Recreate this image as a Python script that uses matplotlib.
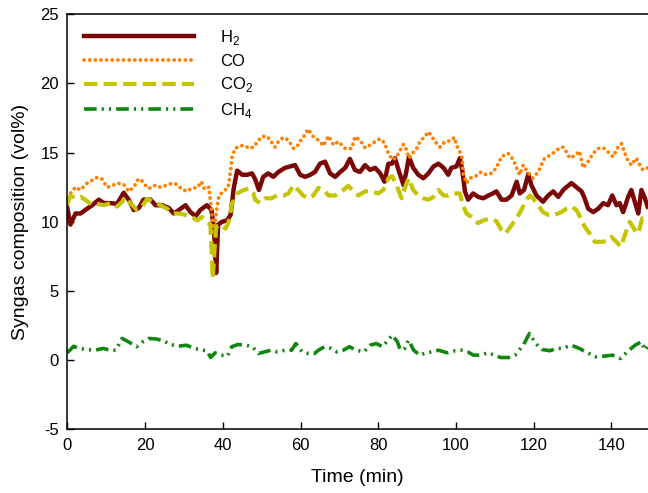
import numpy as np
import matplotlib.pyplot as plt

plt.rcParams['font.family'] = ['Liberation Sans', 'DejaVu Sans']
plt.rcParams['axes.unicode_minus'] = False

# H2 (vol%)
h2_t = [0, 0.8, 2.1, 3.4, 4.6, 6.4, 8.1, 9.4, 11.1, 12.8, 14.5, 15.8, 17.1, 18.4, 19.6,
        21.4, 22.7, 24.4, 26.1, 27.4, 28.7, 30.4, 31.7, 33.0, 34.2, 35.9, 37.1, 37.7,
        38.3, 38.8, 39.8, 41.1, 42.0, 42.8, 43.7, 45.0, 46.3, 47.5, 48.3, 49.3, 50.4,
        51.7, 53.0, 54.3, 56.0, 57.3, 58.6, 59.9, 61.2, 62.5, 63.7, 65.0, 66.3, 67.6,
        68.9, 70.2, 71.5, 72.7, 74.0, 75.3, 76.6, 77.9, 79.2, 80.5, 81.6, 82.6, 83.5,
        84.3, 85.2, 86.5, 87.3, 87.9, 89.0, 90.3, 91.6, 92.9, 94.2, 95.5, 96.8, 98.0,
        98.8, 100.1, 101.0, 101.6, 102.3, 103.1, 104.4, 105.7, 107.0, 108.3, 109.5,
        110.4, 111.7, 113.0, 114.3, 115.6, 116.4, 117.5, 118.6, 119.4, 120.7, 122.4,
        123.7, 125.0, 126.3, 127.6, 128.4, 129.7, 131.0, 132.3, 133.1, 134.0, 135.3,
        136.6, 137.9, 139.1, 140.2, 141.3, 142.1, 143.0, 144.3, 145.1, 146.0, 146.9,
        147.7, 148.6, 149.3]
h2_v = [11.0, 9.8, 10.6, 10.6, 10.85, 11.2, 11.6, 11.35, 11.35, 11.3, 12.1, 11.6, 10.85,
        11.0, 11.6, 11.6, 11.2, 11.2, 11.0, 10.6, 10.85, 11.2, 10.7, 10.4, 10.85, 11.2,
        10.85, 9.5, 6.3, 9.8, 10.0, 10.1, 10.5, 12.4, 13.7, 13.4, 13.4, 13.5, 13.1, 12.3,
        13.25, 13.5, 13.25, 13.6, 13.9, 14.0, 14.1, 13.4, 13.25, 13.4, 13.6, 14.2, 14.35,
        13.5, 13.25, 13.6, 13.9, 14.55, 13.75, 13.6, 14.1, 13.75, 13.9, 13.5, 12.9, 14.2,
        14.2, 14.6, 13.75, 12.65, 13.75, 14.7, 13.9, 13.4, 13.15, 13.5, 14.0, 14.2, 13.9,
        13.4, 13.9, 14.0, 14.6, 13.75, 12.2, 11.6, 12.05, 11.8, 11.7, 11.9, 12.05, 12.2,
        11.6, 11.6, 11.9, 12.9, 12.05, 12.3, 13.45, 12.65, 11.9, 11.45, 11.9, 12.2, 11.8,
        12.3, 12.5, 12.8, 12.5, 12.2, 11.7, 10.95, 10.7, 10.95, 11.35, 11.2, 11.9, 11.2,
        11.35, 10.7, 11.8, 12.3, 11.45, 10.6, 12.3, 11.7, 11.1]

# CO (vol%)
co_t = [0, 0.8, 2.1, 3.4, 5.1, 6.4, 7.6, 8.9, 10.2, 11.5, 12.8, 14.5, 15.8, 17.1, 18.0,
        18.8, 19.6, 20.9, 22.7, 23.9, 25.7, 27.0, 28.2, 29.5, 30.8, 32.1, 33.4, 34.5,
        35.3, 36.4, 37.1, 37.7, 38.3, 39.0, 40.2, 41.4, 42.0, 42.4, 43.2, 44.5, 45.8,
        46.7, 47.9, 48.7, 50.0, 51.3, 52.2, 53.4, 54.3, 55.6, 56.9, 58.2, 59.4, 60.3,
        61.2, 61.9, 63.3, 64.6, 65.9, 67.2, 68.5, 69.7, 71.5, 73.2, 74.0, 75.3, 76.6,
        77.9, 79.2, 80.5, 81.6, 82.6, 83.6, 84.5, 85.4, 86.5, 87.3, 87.9, 88.8, 89.9,
        90.8, 92.0, 92.9, 93.8, 94.6, 95.9, 97.2, 98.5, 99.6, 100.1, 101.0, 101.6, 101.8,
        102.7, 103.5, 104.8, 106.5, 107.8, 109.1, 110.4, 111.7, 113.4, 114.7, 115.6,
        116.4, 117.3, 118.1, 119.0, 119.8, 121.1, 122.8, 124.1, 125.4, 126.7, 127.6,
        128.4, 129.3, 130.6, 131.8, 132.7, 134.0, 135.3, 136.6, 137.9, 139.1, 140.4,
        141.7, 142.6, 143.9, 145.1, 146.4, 147.3, 148.1, 149.3]
co_v = [11.3, 12.05, 12.5, 12.3, 12.8, 13.0, 13.2, 13.1, 12.5, 12.6, 12.8, 12.7, 12.2,
        12.5, 13.0, 13.1, 12.8, 12.4, 12.65, 12.5, 12.65, 12.8, 12.7, 12.35, 12.2, 12.45,
        12.45, 12.9, 12.35, 12.5, 10.85, 9.3, 10.6, 11.9, 12.2, 12.5, 13.7, 14.7, 15.3,
        15.5, 15.5, 15.3, 15.4, 15.7, 16.15, 16.2, 15.9, 15.4, 15.8, 16.1, 15.9, 15.3,
        15.55, 16.0, 16.3, 16.7, 16.15, 15.9, 15.5, 16.2, 15.55, 15.8, 15.3, 15.3, 16.15,
        15.9, 15.35, 15.55, 15.8, 16.0, 15.7, 14.95, 14.5, 14.6, 15.05, 15.6, 15.2, 14.6,
        14.95, 15.3, 15.85, 16.15, 16.5, 16.15, 15.8, 15.4, 15.8, 15.85, 16.1, 15.55,
        15.05, 14.6, 13.5, 12.8, 13.15, 13.25, 13.6, 13.4, 13.5, 13.9, 14.7, 14.95, 14.5,
        13.9, 13.4, 14.1, 13.75, 13.4, 13.15, 13.6, 14.6, 14.8, 15.05, 15.35, 15.4, 15.05,
        14.6, 14.8, 15.1, 13.9, 14.35, 14.95, 15.3, 15.35, 15.05, 14.7, 15.4, 15.65, 14.6,
        14.1, 14.6, 14.1, 13.75, 13.9]

# CO2 (vol%)
co2_t = [0, 0.8, 2.1, 3.4, 4.6, 6.4, 7.6, 9.4, 11.1, 12.8, 14.1, 14.9, 16.2, 17.9, 19.2,
         20.5, 22.2, 24.0, 25.7, 27.0, 28.7, 30.4, 32.1, 33.4, 34.7, 35.9, 36.8, 37.1,
         37.4, 37.9, 38.3, 39.4, 40.7, 41.5, 42.4, 43.7, 45.4, 46.7, 47.9, 48.3, 49.6,
         50.9, 52.6, 53.9, 55.6, 56.9, 58.2, 59.4, 60.7, 62.0, 63.3, 64.6, 65.9, 67.2,
         68.9, 70.6, 72.3, 73.6, 74.9, 76.6, 78.3, 80.0, 81.3, 82.6, 83.6, 84.7, 86.0,
         86.9, 87.8, 89.0, 90.3, 91.6, 92.9, 94.2, 95.5, 96.8, 98.0, 99.3, 101.0, 101.8,
         102.7, 104.0, 105.7, 107.4, 109.1, 110.4, 111.7, 112.7, 114.3, 115.6, 116.8,
         118.1, 119.0, 119.8, 121.1, 122.4, 123.7, 125.4, 127.1, 128.4, 129.7, 131.0,
         132.1, 133.1, 134.4, 135.7, 137.4, 139.0, 140.0, 141.3, 142.4, 143.4, 144.7,
         146.0, 146.9, 147.9, 149.0]
co2_v = [11.3, 11.9, 11.7, 11.8, 11.6, 11.2, 11.3, 11.2, 11.35, 11.1, 11.45, 11.8, 11.35,
         10.85, 11.1, 11.65, 11.45, 11.2, 10.95, 10.6, 10.6, 10.5, 10.35, 10.1, 10.35,
         10.0, 9.8, 8.1, 5.9, 8.1, 9.65, 9.8, 9.5, 10.0, 11.35, 12.05, 12.3, 12.4, 12.05,
         11.6, 11.35, 11.7, 11.7, 11.9, 11.9, 12.05, 12.65, 12.3, 11.9, 11.7, 11.9, 12.45,
         12.3, 11.9, 11.9, 12.2, 12.6, 12.2, 11.9, 12.2, 12.2, 12.05, 12.3, 13.15, 13.3,
         12.65, 11.7, 12.5, 13.15, 12.3, 11.9, 11.7, 11.6, 11.8, 12.3, 11.9, 11.9, 12.05,
         12.05, 11.2, 10.6, 10.35, 9.9, 10.15, 10.2, 10.05, 9.4, 9.15, 9.75, 10.25, 10.85,
         11.6, 11.9, 11.7, 11.2, 10.7, 10.5, 10.5, 10.7, 10.95, 11.1, 10.85, 10.25, 9.65,
         9.15, 8.55, 8.55, 8.6, 8.9, 8.55, 8.2, 9.0, 10.0, 9.4, 9.15, 10.25, 10.0]

# CH4 (vol%)
ch4_t = [0, 1.6, 2.9, 5.0, 7.1, 9.3, 10.9, 12.5, 14.1, 15.7, 17.8, 19.4, 21.0, 23.1, 24.7,
         26.3, 28.4, 30.6, 32.7, 34.8, 35.9, 36.9, 38.0, 39.6, 41.2, 42.3, 43.9, 46.0,
         47.6, 49.2, 50.8, 52.4, 54.0, 56.1, 57.7, 58.8, 60.4, 62.0, 63.6, 64.6, 66.2,
         67.8, 69.4, 71.0, 72.6, 74.2, 76.3, 77.9, 79.5, 81.1, 82.2, 83.6, 84.9, 85.7,
         86.8, 87.8, 89.1, 90.7, 92.3, 93.9, 95.5, 97.7, 99.8, 101.4, 103.0, 104.5, 106.1,
         108.3, 109.9, 111.5, 113.6, 115.2, 117.3, 118.9, 120.5, 122.1, 124.2, 125.8,
         127.4, 129.6, 131.7, 133.8, 136.0, 138.1, 140.2, 142.3, 144.5, 146.1, 147.7,
         148.7, 149.4]
ch4_v = [0.53, 1.0, 0.85, 0.77, 0.72, 0.85, 0.72, 0.72, 1.57, 1.33, 0.97, 1.33, 1.57, 1.52,
         1.4, 1.16, 1.0, 1.08, 0.85, 0.72, 0.68, 0.19, 0.53, 0.36, 0.29, 0.97, 1.13, 1.08,
         0.97, 0.48, 0.6, 0.72, 0.6, 0.72, 0.72, 1.2, 0.6, 0.48, 0.48, 0.72, 0.97, 0.85,
         0.6, 0.72, 0.97, 0.72, 0.6, 1.08, 1.2, 0.97, 1.33, 1.81, 1.33, 0.72, 0.85, 1.45,
         0.72, 0.36, 0.53, 0.6, 0.72, 0.53, 0.68, 0.72, 0.6, 0.36, 0.36, 0.53, 0.36, 0.19,
         0.19, 0.36, 1.08, 1.93, 1.2, 0.77, 0.68, 0.85, 0.85, 1.08, 0.85, 0.53, 0.24, 0.29,
         0.36, 0.12, 0.72, 1.08, 1.33, 0.72, 1.1]

fig = plt.figure(figsize=(6.48, 4.93), dpi=100)
ax = fig.add_axes([0.1039, 0.1292, 0.8961, 0.8418])

ax.plot(h2_t, h2_v, color='#7b0606', lw=3.2, solid_joinstyle='round',
        label='H$_\\mathregular{2}$')
ax.plot(co_t, co_v, color='#ff8000', lw=2.7, linestyle=(0, (0.05, 1.45)),
        dash_capstyle='round', label='CO')
ax.plot(co2_t, co2_v, color='#c4c400', lw=3.0, linestyle=(0, (3.2, 1.5)),
        label='CO$_\\mathregular{2}$')
ax.plot(ch4_t, ch4_v, color='#0f870f', lw=2.6,
        linestyle=(0, (3.5, 1.4, 0.6, 1.4, 0.6, 1.4)),
        label='CH$_\\mathregular{4}$')

ax.set_xlim(0, 149.4)
ax.set_ylim(-5, 25)
ax.set_xticks(np.arange(0, 141, 20))
ax.set_yticks(np.arange(-5, 26, 5))
ax.tick_params(direction='in', length=5, width=1, labelsize=12, pad=6)
ax.spines['right'].set_visible(False)
for s in ['left', 'bottom', 'top']:
    ax.spines[s].set_linewidth(1.1)

ax.set_xlabel('Time (min)', fontsize=14, labelpad=12)
ax.set_ylabel('Syngas composition (vol%)', fontsize=14, labelpad=8)

ax.legend(loc='upper left', frameon=False, fontsize=12, handlelength=6.6,
          handletextpad=1.6, labelspacing=0.4, borderaxespad=0.3,
          bbox_to_anchor=(0.008, 0.995))

fig.savefig('out.png', dpi=100)
